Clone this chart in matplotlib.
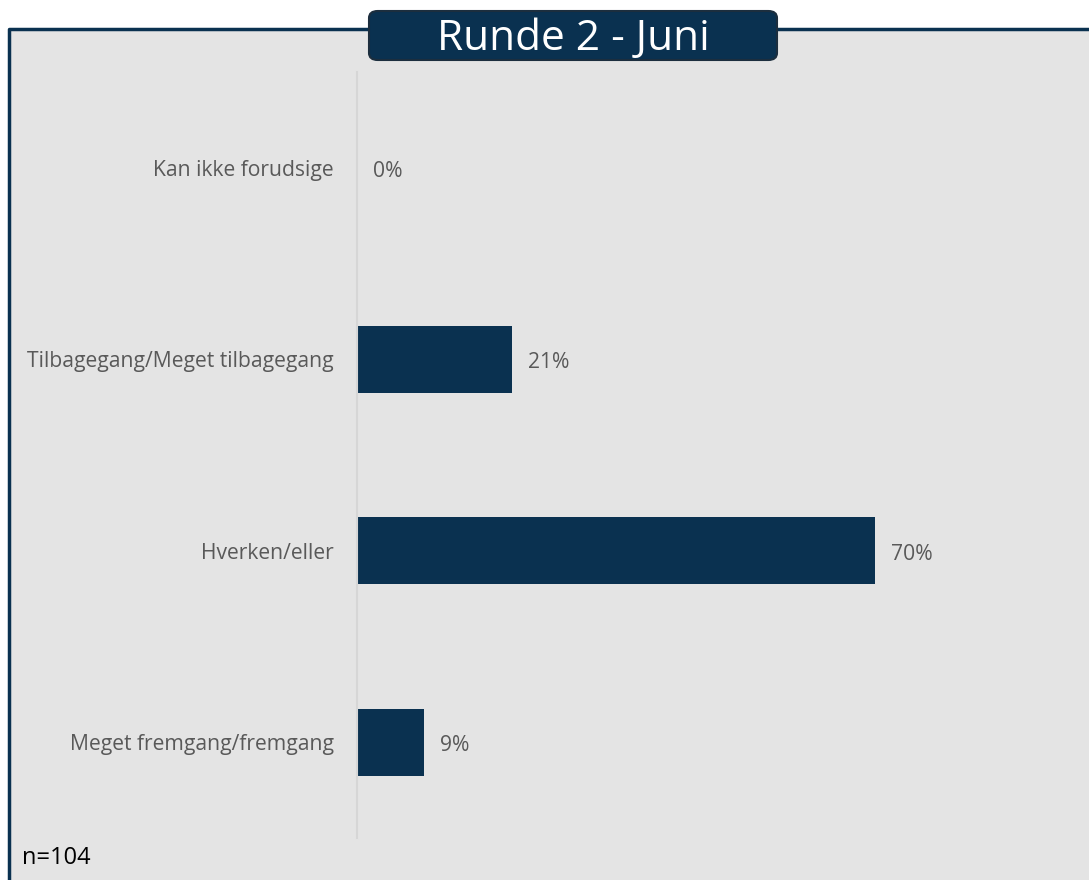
import matplotlib.pyplot as plt
from matplotlib.patches import FancyBboxPatch, Rectangle
from matplotlib.lines import Line2D

# data
categories = ["Kan ikke forudsige", "Tilbagegang/Meget tilbagegang",
              "Hverken/eller", "Meget fremgang/fremgang"]
values = [0, 21, 70, 9]
title = "Runde 2 - Juni"
note = "n=104"

NAVY = "#0A3150"
BG = "#E4E4E4"
TXT = "#595959"
FONT = "Open Sans"

fig = plt.figure(figsize=(10.89, 8.8), dpi=100)
W, H = 1089, 880

# gray panel with navy frame (left, top, right)
fig.patches.append(Rectangle((9 / W, 0), 1 - 9 / W, 1 - 29 / H, transform=fig.transFigure,
                             facecolor=BG, edgecolor="none", zorder=-5))
fig.add_artist(Line2D([9 / W, 9 / W, 1.0], [0, 1 - 29 / H, 1 - 29 / H],
                      transform=fig.transFigure, color=NAVY, lw=2.5, zorder=1))

ax = fig.add_axes([357 / W, 1 - 838 / H, 1 - 357 / W, (838 - 72) / H])
ax.set_facecolor("none")
y = range(len(categories))
ax.barh(y, values, height=0.35, color=NAVY, zorder=2)
ax.set_xlim(0, 99)
ax.set_ylim(len(categories) - 0.5, -0.5)
for s in ["top", "right", "bottom"]:
    ax.spines[s].set_visible(False)
ax.spines["left"].set_color("#D6D6D6")
ax.spines["left"].set_linewidth(1.5)
ax.set_xticks([])
ax.set_yticks(list(y))
ax.set_yticklabels(categories, fontsize=15.2, color=TXT, family=FONT)
ax.tick_params(axis="y", length=0, pad=16.5)

for i, v in enumerate(values):
    ax.annotate(f"{v}%", (v, i), xytext=(11.5, -2.5), textcoords="offset points",
                ha="left", va="center", fontsize=15.2, color=TXT, family=FONT)

# title box
box_x0, box_x1, box_y0, box_y1 = 369, 777, 11, 60
fig.patches.append(FancyBboxPatch((box_x0 / W, 1 - box_y1 / H),
                                  (box_x1 - box_x0) / W, (box_y1 - box_y0) / H,
                                  boxstyle="round,pad=0,rounding_size=0.008",
                                  transform=fig.transFigure, facecolor=NAVY,
                                  edgecolor="#1C2E3E", lw=1.5, zorder=3))
fig.text((box_x0 + box_x1) / 2 / W, 1 - 39 / H, title,
         ha="center", va="center", fontsize=30.5, color="white", family=FONT, zorder=4)

fig.text(22 / W, 1 - 858 / H, note, ha="left", va="center", fontsize=17,
         color="black", family=FONT)

fig.savefig("out.png", dpi=100, facecolor="white")
